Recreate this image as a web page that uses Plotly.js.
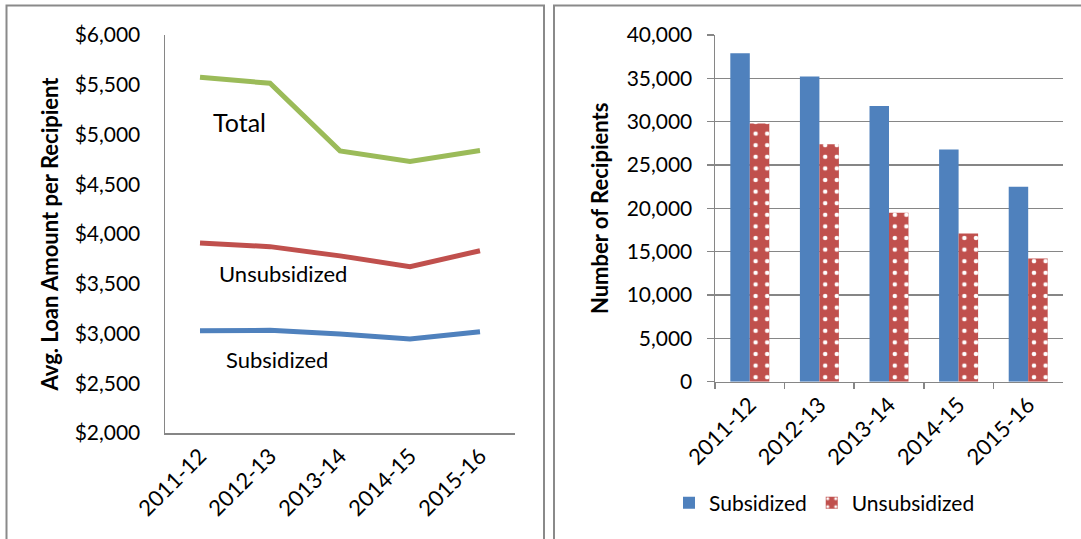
<!DOCTYPE html>
<html>
<head>
<meta charset="utf-8">
<script src="https://cdn.plot.ly/plotly-3.0.1.min.js"></script>
<style>
  html, body { margin: 0; padding: 0; background: #fff; }
  #chart { width: 1081px; height: 539px; }
</style>
</head>
<body>
<div id="chart"></div>
<script>
// ---- data ----
const years = ["2011-12", "2012-13", "2013-14", "2014-15", "2015-16"];
const avgTotal = [5575, 5515, 4835, 4730, 4840];
const avgUnsubsidized = [3910, 3873, 3780, 3672, 3832];
const avgSubsidized = [3028, 3032, 2995, 2945, 3018];
const recipSubsidized = [37900, 35200, 31800, 26800, 22500];
const recipUnsubsidized = [29800, 27400, 19500, 17100, 14200];
const lineLabels = ["Total", "Unsubsidized", "Subsidized"];
const seriesNames = ["Subsidized", "Unsubsidized"];

const W = 1081, H = 539;
const px = v => v / W;
const py = v => 1 - v / H;

const BLUE = "#4F81BD", RED = "#C0504D", GREEN = "#9BBB59";
const GREY = "#868686";
const FONT = "Lato, 'Open Sans', sans-serif";

// right plot area spans 715..1063 px; dot tile = 1/6 of a category band
const R_X0 = 715, R_X1 = 1063;
const dotTile = (R_X1 - R_X0) / years.length / 6;

const traces = [
  { type: "scatter", mode: "lines", x: years, y: avgTotal, xaxis: "x", yaxis: "y",
    line: { color: GREEN, width: 5 }, showlegend: false, name: lineLabels[0] },
  { type: "scatter", mode: "lines", x: years, y: avgUnsubsidized, xaxis: "x", yaxis: "y",
    line: { color: RED, width: 5 }, showlegend: false, name: lineLabels[1] },
  { type: "scatter", mode: "lines", x: years, y: avgSubsidized, xaxis: "x", yaxis: "y",
    line: { color: BLUE, width: 5 }, showlegend: false, name: lineLabels[2] },
  { type: "bar", x: years, y: recipSubsidized, xaxis: "x2", yaxis: "y2", name: seriesNames[0],
    marker: { color: BLUE, line: { width: 0 } } },
  { type: "bar", x: years, y: recipUnsubsidized, xaxis: "x2", yaxis: "y2", name: seriesNames[1],
    marker: { color: RED, line: { width: 0 },
      pattern: { shape: ".", fgcolor: "#ffffff", fgopacity: 1, bgcolor: RED, size: dotTile, solidity: 0.12, fillmode: "overlay" } } }
];

const tickFont = { family: FONT, size: 21, color: "#000" };
const xTickFont = { family: FONT, size: 22, color: "#000" };
const titleFont = { family: FONT, size: 22, color: "#000", weight: "bold" };

const layout = {
  width: W, height: H,
  margin: { l: 0, r: 0, t: 0, b: 0 },
  paper_bgcolor: "#fff", plot_bgcolor: "#fff",
  font: { family: FONT, color: "#000" },
  barmode: "group", bargap: 0.44, bargroupgap: 0,
  xaxis: {
    domain: [px(165), px(515)], anchor: "y",
    type: "category", range: [-0.5, 4.5],
    showline: true, linecolor: GREY, linewidth: 1.5,
    showgrid: false, zeroline: false, ticks: "",
    tickangle: -45, tickfont: xTickFont
  },
  yaxis: {
    domain: [py(433), py(35)], anchor: "x",
    range: [2000, 6000], dtick: 500, tickprefix: "$", tickformat: ",d",
    showline: true, linecolor: GREY, linewidth: 1.5,
    showgrid: false, zeroline: false, ticks: "",
    ticklabelstandoff: 19, tickfont: tickFont,
    title: { text: "Avg. Loan Amount per Recipient", font: titleFont, standoff: 10 }
  },
  xaxis2: {
    domain: [px(R_X0), px(R_X1)], anchor: "y2",
    type: "category", range: [-0.5, 4.5],
    showline: true, linecolor: GREY, linewidth: 1.5,
    showgrid: false, zeroline: false,
    ticks: "outside", tickson: "boundaries", ticklen: 6, tickcolor: GREY, tickwidth: 1.5,
    tickangle: -45, tickfont: xTickFont
  },
  yaxis2: {
    domain: [py(381.7), py(35)], anchor: "x2",
    range: [0, 40000], dtick: 5000, tickformat: ",d",
    showline: true, linecolor: GREY, linewidth: 1.5,
    showgrid: true, gridcolor: GREY, gridwidth: 1.5, zeroline: false,
    ticks: "outside", ticklen: 7, tickcolor: GREY, tickwidth: 1.5,
    ticklabelstandoff: 10, tickfont: tickFont,
    title: { text: "Number of Recipients", font: titleFont, standoff: 12 }
  },
  showlegend: true,
  legend: {
    orientation: "h", x: px(669), xanchor: "left", y: py(503), yanchor: "middle",
    font: { family: FONT, size: 21, color: "#000" }, bgcolor: "rgba(0,0,0,0)",
    traceorder: "normal"
  },
  annotations: [
    { xref: "x", yref: "y", x: 0.57, y: 5126, text: lineLabels[0], showarrow: false,
      font: { family: FONT, size: 25, color: "#000" } },
    { xref: "x", yref: "y", x: 1.19, y: 3608, text: lineLabels[1], showarrow: false,
      font: { family: FONT, size: 22, color: "#000" } },
    { xref: "x", yref: "y", x: 1.1, y: 2734, text: lineLabels[2], showarrow: false,
      font: { family: FONT, size: 22, color: "#000" } }
  ],
  shapes: [
    { type: "rect", xref: "paper", yref: "paper", x0: px(6.5), x1: px(544), y0: -0.05, y1: py(5.5),
      line: { color: "#8a8a8a", width: 2 }, fillcolor: "rgba(0,0,0,0)", layer: "below" },
    { type: "rect", xref: "paper", yref: "paper", x0: px(554), x1: 1.05, y0: -0.05, y1: py(5.5),
      line: { color: "#8a8a8a", width: 2 }, fillcolor: "rgba(0,0,0,0)", layer: "below" }
  ]
};

Plotly.newPlot("chart", traces, layout, { displayModeBar: false, staticPlot: true });
</script>
</body>
</html>
